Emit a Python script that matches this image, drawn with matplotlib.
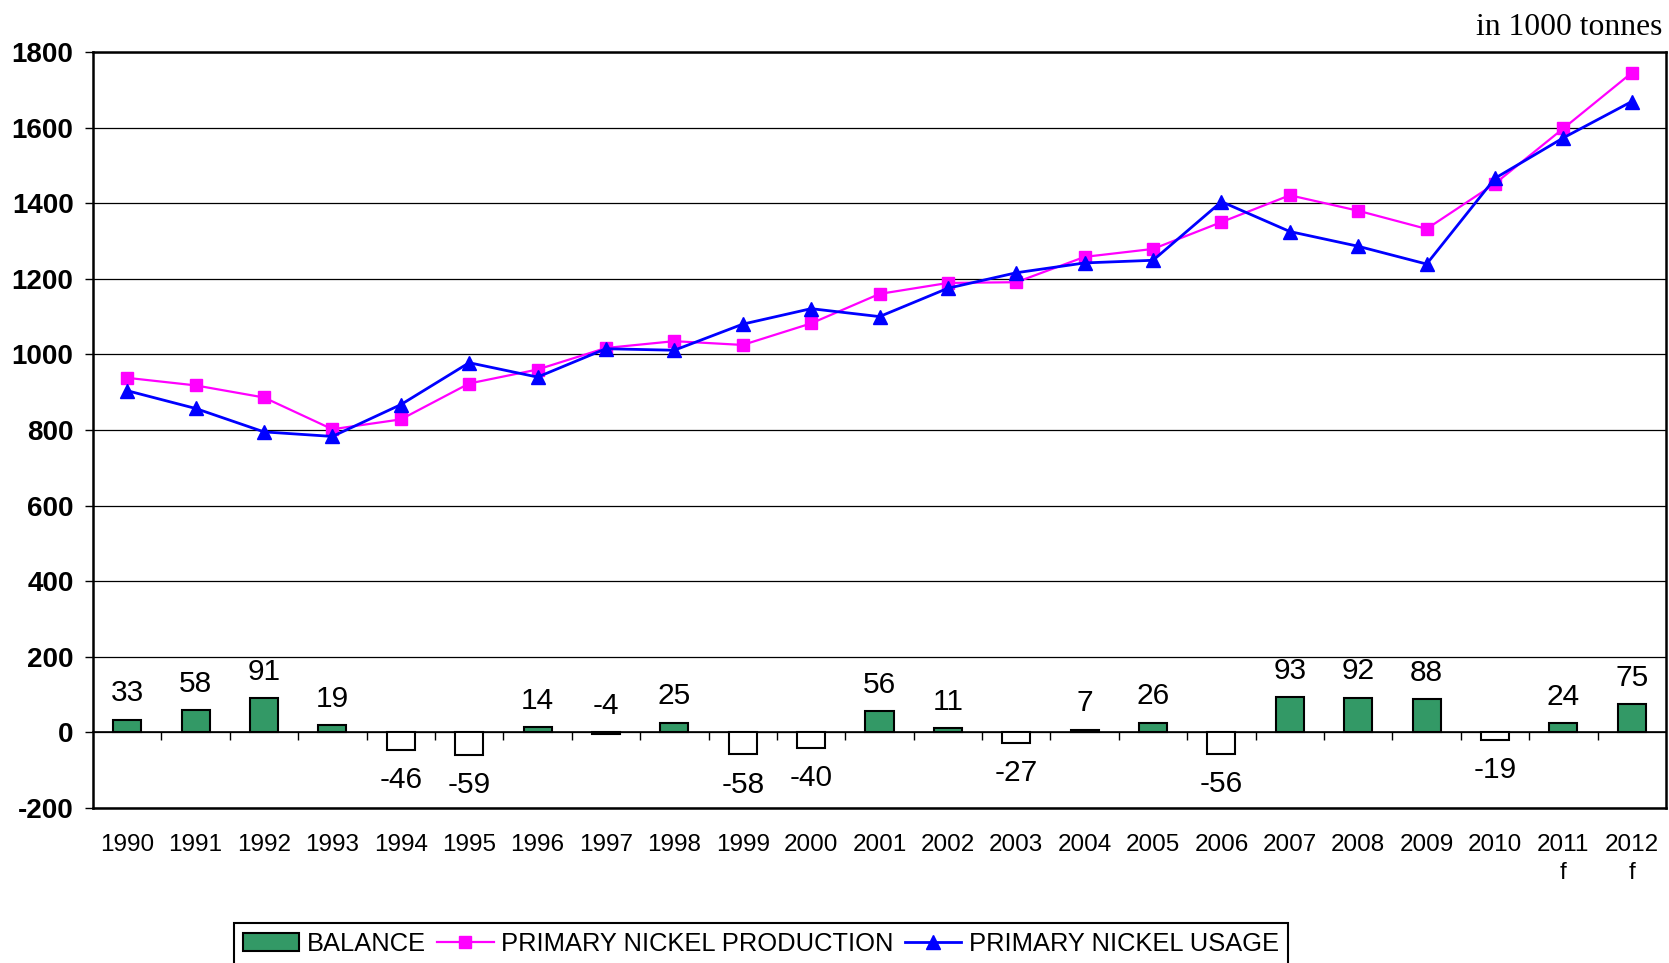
import numpy as np
import matplotlib
matplotlib.use("Agg")
import matplotlib.pyplot as plt

plt.rcParams['font.family'] = ['Liberation Sans', 'DejaVu Sans']
plt.rcParams['axes.unicode_minus'] = False

years = ['1990', '1991', '1992', '1993', '1994', '1995', '1996', '1997', '1998',
         '1999', '2000', '2001', '2002', '2003', '2004', '2005', '2006', '2007',
         '2008', '2009', '2010', '2011\nf', '2012\nf']
balance = [33, 58, 91, 19, -46, -59, 14, -4, 25, -58, -40, 56, 11, -27, 7, 26,
           -56, 93, 92, 88, -19, 24, 75]
production = [938, 918, 886, 802, 828, 923, 960, 1017, 1035, 1025, 1082, 1160,
              1189, 1191, 1258, 1279, 1350, 1421, 1380, 1332, 1452, 1598, 1745]
usage = [904, 857, 795, 783, 867, 978, 940, 1015, 1011, 1080, 1121, 1100, 1175,
         1216, 1242, 1249, 1404, 1325, 1286, 1239, 1466, 1573, 1669]

W, H = 1669, 963
fig = plt.figure(figsize=(W / 100, H / 100), dpi=100)
ax = fig.add_axes([93 / W, 1 - 808 / H, (1666 - 93) / W, (808 - 52) / H])

x = np.arange(len(years))
colors = ['#339966' if v > 0 else 'white' for v in balance]
bars = ax.bar(x, balance, width=0.41, color=colors, edgecolor='black',
              linewidth=1.5, zorder=3, label='BALANCE')
l1, = ax.plot(x, production, color='#ff00ff', lw=1.6, marker='s', ms=8,
              zorder=4, label='PRIMARY NICKEL PRODUCTION')
l2, = ax.plot(x, usage, color='#0000ff', lw=2, marker='^', ms=9.5,
              zorder=5, label='PRIMARY NICKEL USAGE')

for i, v in enumerate(balance):
    if v > -5:
        ax.annotate(str(v), (i, max(v, 0)), xytext=(0, 9), textcoords='offset points',
                    ha='center', va='bottom', fontsize=21.5)
    else:
        ax.annotate(str(v), (i, v), xytext=(0, -12), textcoords='offset points',
                    ha='center', va='top', fontsize=21.5)

ax.set_xlim(-0.5, len(years) - 0.5)
ax.set_ylim(-200, 1800)
ax.set_yticks(np.arange(-200, 1801, 200))
ax.yaxis.grid(True, color='black', lw=0.9)
ax.set_axisbelow(True)
ax.tick_params(axis='y', direction='out', length=6, width=1, pad=8, labelsize=20)
for t in ax.get_yticklabels():
    t.set_fontweight('bold')

ax.set_xticks(x)
ax.set_xticklabels(years, fontsize=17.5)
ax.tick_params(axis='x', length=0, pad=19)
for t in ax.get_xticklabels():
    t.set_linespacing(1.35)

for s in ax.spines.values():
    s.set_linewidth(1.8)

# category axis crossing at zero with boundary ticks
sec = ax.secondary_xaxis(0.1)
sec.set_xticks(np.arange(len(years) - 1) + 0.5)
sec.set_xticklabels([])
sec.tick_params(direction='out', length=6, width=1)
sec.spines['bottom'].set_linewidth(1.2)

fig.text(1662 / W, 1 - 35 / H, 'in 1000 tonnes', ha='right', va='baseline',
         fontsize=22.8, family='Liberation Serif')

leg = fig.legend(handles=[bars, l1, l2], loc='upper left', ncol=3,
                 bbox_to_anchor=(234 / W, 1 - 923 / H), fontsize=18.4,
                 frameon=True, fancybox=False, edgecolor='black', framealpha=1,
                 handlelength=2.2, handletextpad=0.3, columnspacing=0.45,
                 borderpad=0.35, borderaxespad=0)
leg.get_frame().set_linewidth(1.5)

fig.savefig('out.png', dpi=100)
